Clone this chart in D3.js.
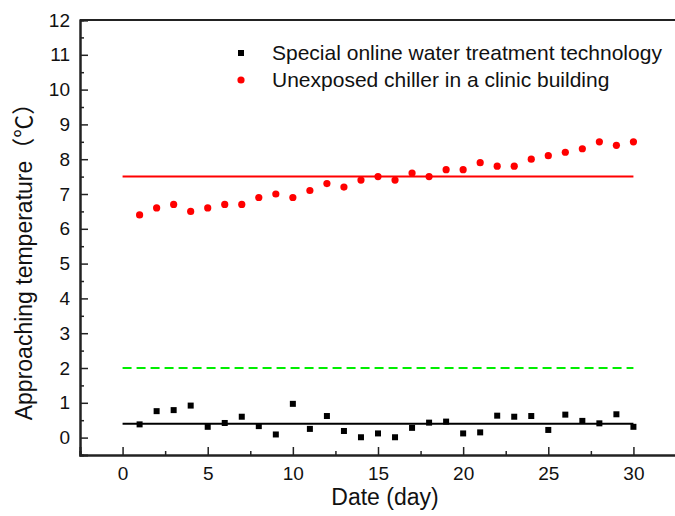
<!DOCTYPE html>
<html lang="en">
<head>
<meta charset="UTF-8">
<title>Approaching temperature</title>
<script src="https://cdn.jsdelivr.net/npm/d3@7"></script>
<style>
    body { margin: 0; padding: 0; background: #fff; }
    svg { display: block; font-family: "Liberation Sans", Arial, "Noto Sans CJK SC", sans-serif; }
</style>
</head>
<body>
<div id="chart"></div>
<script>
// days 1..30
const days = d3.range(1, 31);
const specialTech = [0.38, 0.76, 0.79, 0.92, 0.31, 0.42, 0.60, 0.33, 0.09, 0.97,
                     0.25, 0.62, 0.19, 0.01, 0.12, 0.01, 0.28, 0.43, 0.46, 0.12,
                     0.15, 0.63, 0.60, 0.62, 0.22, 0.66, 0.48, 0.41, 0.67, 0.31];
const unexposed = [6.4, 6.6, 6.7, 6.5, 6.6, 6.7, 6.7, 6.9, 7.0, 6.9,
                   7.1, 7.3, 7.2, 7.4, 7.5, 7.4, 7.6, 7.5, 7.7, 7.7,
                   7.9, 7.8, 7.8, 8.0, 8.1, 8.2, 8.3, 8.5, 8.4, 8.5];
const refLines = [
    { value: 7.5, color: "#ff0000", dash: null },
    { value: 2.0, color: "#00ee00", dash: "9,5" },
    { value: 0.4, color: "#000000", dash: null }
];
const legendLabels = ["Special online water treatment technology", "Unexposed chiller in a clinic building"];

const width = 675, height = 516;
const svg = d3.select("#chart").append("svg")
    .attr("width", width).attr("height", height);

const x = d3.scaleLinear().domain([-2.5, 32.5]).range([80, 676]);
const y = d3.scaleLinear().domain([-0.5, 12]).range([455, 20]);

// reference lines (day 0 to 30)
svg.selectAll(".ref").data(refLines).enter().append("line")
    .attr("x1", x(0)).attr("x2", x(30))
    .attr("y1", d => y(d.value)).attr("y2", d => y(d.value))
    .attr("stroke", d => d.color).attr("stroke-width", 2)
    .attr("stroke-dasharray", d => d.dash);

// axes - ticks point inward
svg.append("g").attr("transform", `translate(0,${y(-0.5)})`)
    .call(d3.axisBottom(x).tickValues(d3.range(0, 31, 5)).tickSize(-8).tickPadding(12));
svg.append("g").attr("transform", `translate(0,${y(-0.5)})`)
    .call(d3.axisBottom(x).tickValues(d3.range(-2.5, 33, 5)).tickSize(-4).tickFormat(""));
svg.append("g").attr("transform", `translate(${x(-2.5)},0)`)
    .call(d3.axisLeft(y).tickValues(d3.range(0, 13, 1)).tickSize(-8).tickPadding(10));
svg.append("g").attr("transform", `translate(${x(-2.5)},0)`)
    .call(d3.axisLeft(y).tickValues(d3.range(0.5, 12, 1)).tickSize(-4).tickFormat(""));

svg.selectAll(".domain").attr("stroke", "#222").attr("stroke-width", 2);
svg.selectAll(".tick line").attr("stroke", "#222").attr("stroke-width", 1.5);
svg.selectAll(".tick text").attr("font-size", 19).attr("fill", "#111")
    .attr("font-family", "Liberation Sans, Arial, sans-serif");

// top frame
svg.append("line").attr("x1", x(-2.5)).attr("x2", width)
    .attr("y1", y(12)).attr("y2", y(12))
    .attr("stroke", "#222").attr("stroke-width", 2);

// points
svg.selectAll(".sq").data(days).enter().append("rect")
    .attr("x", d => x(d) - 3).attr("y", (d, i) => y(specialTech[i]) - 3)
    .attr("width", 6).attr("height", 6).attr("fill", "#000");
svg.selectAll(".dot").data(days).enter().append("circle")
    .attr("cx", d => x(d)).attr("cy", (d, i) => y(unexposed[i]))
    .attr("r", 3.6).attr("fill", "#ff0000");

// legend
svg.append("rect").attr("x", 238).attr("y", 50).attr("width", 6).attr("height", 6).attr("fill", "#000");
svg.append("circle").attr("cx", 241).attr("cy", 80).attr("r", 3.6).attr("fill", "#ff0000");
svg.selectAll(".leg").data(legendLabels).enter().append("text")
    .attr("x", 272).attr("y", (d, i) => 53 + i * 27)
    .attr("dy", "0.35em").attr("font-size", 21).attr("fill", "#111")
    .text(d => d);

// axis titles
svg.append("text").attr("x", 385).attr("y", 505)
    .attr("text-anchor", "middle").attr("font-size", 23).attr("fill", "#111")
    .text("Date (day)");
svg.append("text").attr("transform", "translate(32,256) rotate(-90)")
    .attr("text-anchor", "middle").attr("font-size", 23).attr("fill", "#111")
    .text("Approaching temperature（℃）");
</script>
</body>
</html>
